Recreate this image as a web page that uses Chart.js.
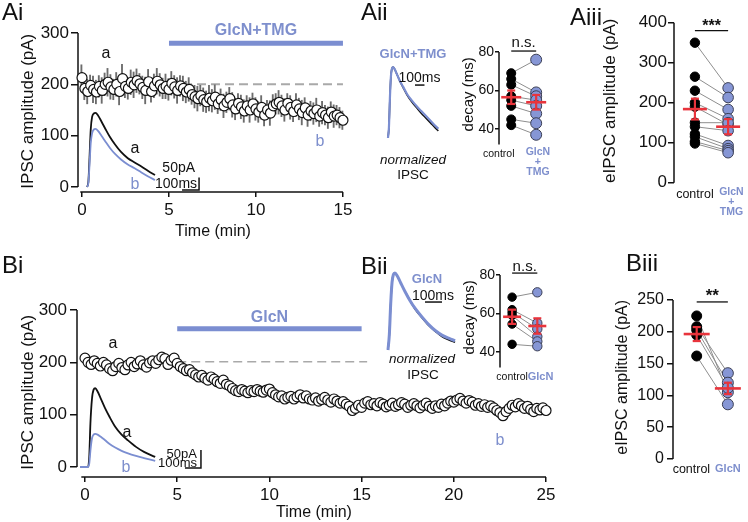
<!DOCTYPE html>
<html>
<head>
<meta charset="utf-8">
<script src="https://cdn.jsdelivr.net/npm/chart.js@4.4.1/dist/chart.umd.min.js"></script>
<style>
  body { margin: 0; width: 748px; height: 522px; position: relative; overflow: hidden; background: #fff;
         font-family: 'Liberation Sans', Arial, sans-serif; color: #111; }
  canvas { position: absolute; }
  .t { position: absolute; transform: translate(-50%, -50%); white-space: nowrap; line-height: 1; }
  .p { position: absolute; font-size: 24px; line-height: 1; }
  .blue { color: #7e8fcd; }
</style>
</head>
<body>
<canvas id="ai" width="360" height="250" style="left:0;top:0"></canvas>
<canvas id="aiiTr" width="65" height="82" style="left:380px;top:60px"></canvas>
<canvas id="aii" width="110" height="160" style="left:450px;top:30px"></canvas>
<canvas id="aiii" width="190" height="225" style="left:565px;top:0"></canvas>
<canvas id="bi" width="565" height="262" style="left:0;top:260px"></canvas>
<canvas id="biiTr" width="80" height="90" style="left:380px;top:265px"></canvas>
<canvas id="bii" width="110" height="140" style="left:450px;top:255px"></canvas>
<canvas id="biii" width="190" height="220" style="left:565px;top:270px"></canvas>

<div class="p" style="left:2px;top:0">Ai</div>
<div class="p" style="left:361px;top:0">Aii</div>
<div class="p" style="left:570px;top:5px">Aiii</div>
<div class="p" style="left:2px;top:253px">Bi</div>
<div class="p" style="left:361px;top:254px">Bii</div>
<div class="p" style="left:626px;top:251px">Biii</div>

<div class="t" style="left:106px;top:53px;font-size:16px">a</div>
<div class="t blue" style="left:320px;top:141px;font-size:16px">b</div>
<div class="t" style="left:135px;top:148px;font-size:16px">a</div>
<div class="t blue" style="left:135px;top:184px;font-size:16px">b</div>
<div class="t" style="left:113px;top:343px;font-size:16px">a</div>
<div class="t blue" style="left:500px;top:440px;font-size:16px">b</div>
<div class="t" style="left:127px;top:432px;font-size:16px">a</div>
<div class="t blue" style="left:126px;top:467px;font-size:16px">b</div>

<div class="t blue" style="left:413px;top:53px;font-size:13px;font-weight:bold">GlcN+TMG</div>
<div class="t" style="left:413px;top:160px;font-size:13.5px;font-style:italic">normalized</div>
<div class="t" style="left:413px;top:175px;font-size:13.5px">IPSC</div>
<div class="t blue" style="left:427px;top:278px;font-size:13px;font-weight:bold">GlcN</div>
<div class="t" style="left:422px;top:359px;font-size:13.5px;font-style:italic">normalized</div>
<div class="t" style="left:423px;top:375px;font-size:13.5px">IPSC</div>

<script>
const FONT = "'Liberation Sans', Arial, sans-serif";
const INK = '#111';
const BLUE = '#7b8ed1';
const BLUE_TXT = '#7e8fcd';
const DOT_BLUE = '#8696d5';
const RED = '#e8343c';
const LINK = '#8e8e8e';

// one sweep every 10 s
const SWEEP_MIN = 1 / 6;
const ampTicks = [0, 100, 200, 300];

// Ai: eIPSC amplitude (pA), GlcN+TMG 5-15 min
const timeTicksAi = [0, 5, 10, 15];
const ampAi = [213, 192, 186, 198, 190, 185, 196, 188, 200, 204, 195, 190, 200, 186, 211, 196, 192, 204, 199, 207,
  201, 194, 188, 205, 186, 197, 206, 199, 192, 196, 190,
  202, 195, 188, 197, 192, 185, 190, 180, 176, 172, 178, 170, 166, 173, 168, 175, 162, 170, 158, 165,
  172, 160, 152, 163, 156, 148, 158, 150, 162, 152, 146, 155, 140, 150, 144, 158, 162, 165, 158, 150,
  163, 155, 147, 160, 152, 145, 154, 140, 148, 143, 150, 138, 145, 140, 135, 146, 138, 140, 135, 130];
const semAi = [25, 22, 24, 20, 26, 23, 21, 25, 22, 27, 24, 20, 23, 26, 28, 22, 21, 24, 25, 23,
  20, 22, 26, 24, 21, 23, 25, 22, 20, 24, 21,
  23, 22, 25, 20, 24, 21, 23, 19, 22, 24, 20, 23, 21, 25, 22, 24, 19, 21, 23, 20,
  22, 24, 21, 19, 23, 22, 20, 24, 21, 22, 20, 23, 21, 19, 24, 22, 20, 23, 21, 22,
  19, 23, 20, 22, 21, 24, 20, 22, 19, 21, 23, 20, 22, 19, 21, 20, 22, 19, 20, 18];
const drugAi = [5, 15];
const baseAi = 200;
const baseSpanAi = [5, 15];

// Ai inset traces (ms, pA)
const trTimeAi = [0, 8, 15, 22, 30, 40, 50, 65, 85, 110, 135, 165, 200, 240, 280, 320, 360, 400];
const trAi_a = [0, 20, 120, 230, 280, 294, 296, 286, 262, 230, 200, 170, 140, 115, 98, 82, 64, 48];
const trAi_b = [0, 15, 90, 175, 215, 230, 232, 224, 205, 180, 156, 132, 110, 90, 75, 58, 42, 28];

// Aii: normalized traces and decay (ms)
const trTimeAii = [0, 10, 20, 30, 40, 53, 70, 100, 130, 160, 200, 250, 300, 350, 400, 450, 500, 530];
const trAii_ctrl = [0, 0.15, 0.55, 0.85, 0.97, 1.0, 0.97, 0.88, 0.79, 0.71, 0.61, 0.51, 0.43, 0.35, 0.28, 0.21, 0.14, 0.10];
const trAii_drug = [0, 0.15, 0.55, 0.85, 0.97, 1.0, 0.97, 0.88, 0.79, 0.72, 0.62, 0.53, 0.45, 0.38, 0.31, 0.24, 0.17, 0.13];
const decayAi_ctrl = [69, 66, 63, 57, 55, 52, 45, 42];
const decayAi_drug = [76, 59, 57, 55, 52, 48, 43, 37];
const decayAi_mean = [56.5, 53.9];
const decayAi_sem = [3.5, 3.8];

// Aiii: eIPSC amplitude (pA)
const ampAiii_ctrl = [350, 265, 230, 200, 190, 150, 140, 122, 115, 103, 98];
const ampAiii_drug = [237, 213, 183, 160, 145, 150, 130, 93, 85, 80, 75];
const ampAiii_mean = [184, 140];
const ampAiii_sem = [26, 19];

// Bi: eIPSC amplitude (pA), GlcN 5-15 min
const timeTicksBi = [0, 5, 10, 15, 20, 25];
const ampBi = [208, 200, 196, 203, 198, 193, 200,
  195, 188, 184, 192, 198, 190,
  186, 195, 200, 192, 197, 203,
  195, 191, 199, 203, 198, 205,
  210, 207, 196, 204, 208, 198,
  192, 188, 184, 186, 180, 176,
  172, 175, 170, 166, 172, 168,
  163, 160, 166, 158, 155, 150,
  146, 144, 148, 145, 142, 146,
  144, 148, 145, 143, 147, 149,
  142, 138, 134, 136, 130, 133,
  135, 130, 134, 138, 132, 136,
  130, 128, 132, 126, 129, 133,
  128, 124, 130, 126, 122, 125,
  120, 116, 108, 112, 118, 114,
  122, 125, 119, 121, 117, 123,
  120, 115, 118, 122, 116, 119,
  123, 120, 114, 118, 121, 117,
  113, 118, 122, 116, 112, 117,
  114, 120, 117, 122, 126, 124,
  128, 131, 126, 122, 127, 124,
  118, 121, 116, 119, 114, 117,
  113, 108, 104, 98, 106, 112,
  118, 115, 121, 117, 112, 116,
  110, 106, 112, 109, 113, 108];
const semBi = [5, 6, 5, 4, 6, 5, 7,
  6, 5, 7, 6, 5, 6,
  7, 5, 6, 5, 4, 6,
  5, 6, 7, 5, 6, 5,
  6, 7, 5, 6, 5, 6,
  5, 4, 6, 5, 5, 6,
  4, 5, 6, 5, 4, 5,
  6, 5, 4, 5, 6, 5,
  4, 5, 6, 4, 5, 5,
  6, 5, 4, 5, 6, 4,
  5, 6, 4, 5, 5, 6,
  4, 5, 6, 5, 4, 5,
  5, 4, 6, 5, 5, 4,
  6, 5, 4, 5, 6, 5,
  4, 6, 5, 7, 5, 6,
  5, 4, 5, 6, 4, 5,
  6, 5, 4, 5, 6, 5,
  4, 5, 6, 5, 4, 5,
  5, 6, 4, 5, 6, 5,
  4, 5, 5, 6, 4, 5,
  6, 5, 4, 5, 6, 5,
  5, 4, 6, 5, 4, 5,
  6, 7, 8, 7, 6, 5,
  5, 6, 4, 5, 6, 5,
  4, 5, 6, 5, 4, 6];
const drugBi = [5, 15];
const baseBi = 201;
const baseSpanBi = [5, 15.3];

// Bi inset traces (ms, pA)
const trTimeBi = [-50, 0, 8, 15, 25, 35, 45, 60, 80, 105, 135, 170, 210, 250, 300, 350, 420];
const trBi_a = [0, 0, 30, 120, 190, 215, 219, 210, 190, 165, 139, 112, 90, 74, 56, 42, 28];
const trBi_b = [0, 0, 10, 45, 80, 90, 92, 90, 84, 75, 64, 54, 45, 38, 31, 25, 17];

// Bii: normalized traces and decay (ms)
const trTimeBii = [0, 8, 16, 24, 32, 41, 55, 75, 100, 130, 160, 200, 240, 280, 320, 360, 395];
const trBii_ctrl = [0, 0.2, 0.6, 0.88, 0.98, 1.0, 0.96, 0.87, 0.76, 0.64, 0.53, 0.42, 0.32, 0.24, 0.17, 0.13, 0.10];
const trBii_drug = [0, 0.2, 0.6, 0.88, 0.98, 1.0, 0.96, 0.87, 0.76, 0.64, 0.54, 0.43, 0.33, 0.25, 0.19, 0.15, 0.12];
const decayBi_ctrl = [68.5, 62, 60.5, 59, 54.5, 44];
const decayBi_drug = [71, 55, 52, 48, 45.5, 43];
const decayBi_mean = [58.3, 53.5];
const decayBi_sem = [3.7, 4];

// Biii: eIPSC amplitude (pA)
const ampBiii_ctrl = [225, 208, 203, 195, 162];
const ampBiii_drug = [105, 135, 120, 112, 86];
const ampBiii_mean = [196.5, 111];
const ampBiii_sem = [11, 9];

Chart.defaults.font.family = FONT;
Chart.defaults.font.size = 16;
Chart.defaults.color = INK;
Chart.defaults.animation = false;
Chart.defaults.events = [];
Chart.defaults.plugins.legend.display = false;
Chart.defaults.plugins.tooltip.enabled = false;

function pts(xs, ys) { return xs.map((x, i) => ({x: x, y: ys[i]})); }
function sweeps(vals) { return vals.map((v, i) => ({x: i * SWEEP_MIN, y: v})); }
function errBars(vals, sem) { return vals.map((v, i) => ({x: i * SWEEP_MIN, y: [v - sem[i], v + sem[i]]})); }
function fixTicks(vals) { return s => { s.ticks = vals.map(v => ({value: v})); }; }

// axis lines, drug bar, scale bars and significance bars
function decor(o) {
  return {
    id: 'decor',
    beforeDatasetsDraw(chart) {
      const c = chart.ctx, a = chart.chartArea, sx = chart.scales.x, sy = chart.scales.y;
      c.save();
      c.strokeStyle = INK;
      c.lineWidth = 1.5;
      if (o.axisY) {
        c.beginPath();
        c.moveTo(a.left, sy.getPixelForValue(o.axisY[0]));
        c.lineTo(a.left, sy.getPixelForValue(o.axisY[1]));
        c.stroke();
      }
      if (o.axisX) {
        c.beginPath();
        c.moveTo(sx.getPixelForValue(o.axisX[0]), a.bottom);
        c.lineTo(sx.getPixelForValue(o.axisX[1]), a.bottom);
        c.stroke();
      }
      c.restore();
    },
    afterDatasetsDraw(chart) {
      const c = chart.ctx;
      c.save();
      if (o.drug) {
        const d = o.drug, sx = chart.scales.x, sy = chart.scales.y;
        const y = sy.getPixelForValue(d.y), x0 = sx.getPixelForValue(d.from), x1 = sx.getPixelForValue(d.to);
        c.strokeStyle = BLUE;
        c.lineWidth = 5;
        c.beginPath(); c.moveTo(x0, y); c.lineTo(x1, y); c.stroke();
        c.fillStyle = BLUE_TXT;
        c.font = 'bold 16px ' + FONT;
        c.textAlign = 'center';
        c.textBaseline = 'middle';
        c.fillText(d.text, (x0 + x1) / 2, y + d.dy);
      }
      if (o.bar) {
        const b = o.bar, sx = chart.scales[b.xAxis], sy = chart.scales[b.yAxis];
        const x0 = sx.getPixelForValue(b.x), y0 = sy.getPixelForValue(b.y);
        c.strokeStyle = INK;
        c.lineWidth = 1.5;
        c.beginPath();
        c.moveTo(sx.getPixelForValue(b.x - b.dx), y0);
        c.lineTo(x0, y0);
        if (b.dy) c.lineTo(x0, sy.getPixelForValue(b.y + b.dy));
        c.stroke();
        c.fillStyle = INK;
        c.font = b.font + 'px ' + FONT;
        c.textBaseline = 'alphabetic';
        b.labels.forEach(l => { c.textAlign = l.align; c.fillText(l.text, x0 + l.ox, y0 + l.oy); });
      }
      if (o.sig) {
        const g = o.sig, sx = chart.scales.x, sy = chart.scales.y;
        const y = sy.getPixelForValue(g.y), x0 = sx.getPixelForValue(0), x1 = sx.getPixelForValue(1);
        c.strokeStyle = INK;
        c.lineWidth = 1.3;
        c.beginPath(); c.moveTo(x0, y); c.lineTo(x1, y); c.stroke();
        c.fillStyle = INK;
        c.font = g.font + ' ' + FONT;
        c.textAlign = 'center';
        c.textBaseline = 'alphabetic';
        c.fillText(g.text, (x0 + x1) / 2, y + g.dy);
      }
      c.restore();
    }
  };
}

function timeCourse(id, o) {
  return new Chart(document.getElementById(id), {
    type: 'scatter',
    data: {
      datasets: [
        {data: sweeps(o.amp), pointRadius: 5, pointBackgroundColor: '#fff', pointBorderColor: INK,
         pointBorderWidth: 1.2, order: 0, clip: false},
        {type: 'bar', data: errBars(o.amp, o.sem), backgroundColor: '#6c6c6c', barThickness: 1.2, order: 1, clip: false},
        {data: [{x: o.baseSpan[0], y: o.base}, {x: o.baseSpan[1], y: o.base}], showLine: true, pointRadius: 0,
         borderColor: '#a9a9a9', borderWidth: o.baseW, borderDash: [9, 5], order: 2, clip: false},
        {data: pts(o.trT, o.trA), xAxisID: 'xt', yAxisID: 'yt', showLine: true, pointRadius: 0,
         borderColor: INK, borderWidth: 1.8, cubicInterpolationMode: 'monotone', order: 4, clip: false},
        {data: pts(o.trT, o.trB), xAxisID: 'xt', yAxisID: 'yt', showLine: true, pointRadius: 0,
         borderColor: BLUE, borderWidth: 1.8, cubicInterpolationMode: 'monotone', order: 3, clip: false}
      ]
    },
    options: {
      responsive: false,
      devicePixelRatio: 1,
      layout: {padding: {top: o.padTop, right: o.padRight, left: 0, bottom: 0}},
      scales: {
        // offset:false, the error-bar (bar) dataset would otherwise pad the time axis
        x: {type: 'linear', offset: false, min: o.xMin, max: o.xMax, afterBuildTicks: fixTicks(o.xTicks),
            afterFit: s => { s.height = o.xH; },
            border: {display: false},
            grid: {offset: false, drawOnChartArea: false, color: INK, lineWidth: 1.5, tickLength: 5},
            ticks: {font: {size: 17}, color: INK, padding: 3, maxRotation: 0},
            title: {display: true, text: 'Time (min)', font: {size: 16}, color: INK,
                    padding: {top: 0, bottom: o.xTitlePad}}},
        y: {type: 'linear', min: o.yMin, max: o.yMax, afterBuildTicks: fixTicks(ampTicks),
            afterFit: s => { s.width = o.yW; },
            border: {display: false},
            grid: {drawOnChartArea: false, color: INK, lineWidth: 1.5, tickLength: 7},
            ticks: {font: {size: 17}, color: INK, padding: o.yTickPad},
            title: {display: true, text: 'IPSC amplitude (pA)', font: {size: 17}, color: INK,
                    padding: {top: 17.8, bottom: 0}}},
        xt: {type: 'linear', axis: 'x', position: 'bottom', offset: false, display: false, min: o.xt[0], max: o.xt[1]},
        yt: {type: 'linear', axis: 'y', position: 'left', display: false, min: o.yt[0], max: o.yt[1]}
      }
    },
    plugins: [decor({axisX: o.axisX, axisY: [0, 300], drug: o.drug, bar: o.bar})]
  });
}

function pairedChart(id, o) {
  const ds = o.ctrl.map((v, i) => ({
    data: [{x: 0, y: v}, {x: 1, y: o.drug[i]}], showLine: true, borderColor: LINK, borderWidth: 1,
    pointRadius: 0, order: 4, clip: false
  }));
  ds.push({data: o.ctrl.map(v => ({x: 0, y: v})), pointRadius: o.r[0], pointBackgroundColor: '#000',
           pointBorderColor: '#000', pointBorderWidth: 1, order: 3, clip: false});
  ds.push({data: o.drug.map(v => ({x: 1, y: v})), pointRadius: o.r[1], pointBackgroundColor: DOT_BLUE,
           pointBorderColor: '#3b3f55', pointBorderWidth: 1, order: 2, clip: false});
  o.mean.forEach((m, i) => {
    ds.push({data: [{x: i, y: m - o.sem[i]}, {x: i, y: m + o.sem[i]}], showLine: true, borderColor: RED,
             borderWidth: 2.2, pointStyle: 'line', pointRadius: 4, pointBorderColor: RED, pointBorderWidth: 2.2,
             order: 1, clip: false});
    ds.push({data: [{x: i, y: m}], pointStyle: 'line', pointRadius: o.meanR, pointBorderColor: RED,
             pointBorderWidth: 2.6, order: 0, clip: false});
  });
  return new Chart(document.getElementById(id), {
    type: 'scatter',
    data: {datasets: ds},
    options: {
      responsive: false,
      devicePixelRatio: 1,
      layout: {padding: {top: o.padTop, right: o.padRight, left: 0, bottom: 0}},
      scales: {
        // group labels sit slightly off the dot columns, as in the figure
        x: {type: 'linear', min: o.xMin, max: o.xMax, afterBuildTicks: fixTicks(o.labelAt),
            afterFit: s => { s.height = o.xH; },
            border: {display: false}, grid: {display: false, drawTicks: false},
            ticks: {padding: o.xTickPad, maxRotation: 0, autoSkip: false,
                    callback: (v, i) => o.labels[i],
                    color: c => c.index === 1 ? BLUE_TXT : INK,
                    font: c => c.index === 1 ? {size: o.drugFont, weight: 'bold', lineHeight: o.drugLH}
                                             : {size: o.ctrlFont}}},
        y: {type: 'linear', min: o.yMin, max: o.yMax, afterBuildTicks: fixTicks(o.yTicks),
            afterFit: s => { s.width = o.yW; },
            border: {display: false},
            grid: {drawOnChartArea: false, color: INK, lineWidth: 1.5, tickLength: o.tickLen},
            ticks: {font: {size: o.tickFont}, color: INK, padding: o.yTickPad},
            title: {display: true, text: o.yTitle, font: {size: o.titleFont}, color: INK,
                    padding: {top: o.titlePad, bottom: 0}}}
      }
    },
    plugins: [decor({axisY: o.axisY, sig: o.sig})]
  });
}

function traceChart(id, o) {
  return new Chart(document.getElementById(id), {
    type: 'scatter',
    data: {
      datasets: [
        {data: pts(o.t, o.ctrl), showLine: true, pointRadius: 0, borderColor: INK, borderWidth: 1.6,
         cubicInterpolationMode: 'monotone', order: 1, clip: false},
        {data: pts(o.t, o.drug), showLine: true, pointRadius: 0, borderColor: BLUE, borderWidth: o.w,
         cubicInterpolationMode: 'monotone', order: 0, clip: false}
      ]
    },
    options: {
      responsive: false,
      devicePixelRatio: 1,
      layout: {padding: 0},
      scales: {
        x: {type: 'linear', display: false, min: o.x[0], max: o.x[1]},
        y: {type: 'linear', display: false, min: o.y[0], max: o.y[1]}
      }
    },
    plugins: [decor({bar: o.bar})]
  });
}

timeCourse('ai', {
  amp: ampAi, sem: semAi, base: baseAi, baseSpan: baseSpanAi, baseW: 2,
  trT: trTimeAi, trA: trAi_a, trB: trAi_b,
  xTicks: timeTicksAi, xMin: -0.23, xMax: 15.29, yMin: -9.74, yMax: 305,
  xt: [-52.9, 1535], yt: [-20, 626],
  padTop: 30.4, padRight: 12, xH: 58, yW: 78, yTickPad: 2, xTitlePad: 8.8,
  axisX: [-0.1, 15],
  drug: {from: drugAi[0], to: drugAi[1], y: 280, text: 'GlcN+TMG', dy: -13},
  bar: {xAxis: 'xt', yAxis: 'yt', x: 659, y: -12, dx: 100, dy: 50, font: 14,
        labels: [{text: '50pA', align: 'right', ox: -4, oy: -18}, {text: '100ms', align: 'right', ox: -2, oy: -2}]}
});

timeCourse('bi', {
  amp: ampBi, sem: semBi, base: baseBi, baseSpan: baseSpanBi, baseW: 1.6,
  trT: trTimeBi, trA: trBi_a, trB: trBi_b,
  xTicks: timeTicksBi, xMin: -0.434, xMax: 25.27, yMin: -19.1, yMax: 305,
  xt: [-68.75, 2893.75], yt: [-27.8, 443.7],
  padTop: 47.4, padRight: 14, xH: 45, yW: 77, yTickPad: 3, xTitlePad: 0,
  axisX: [-0.2, 25],
  drug: {from: drugBi[0], to: drugBi[1], y: 264, text: 'GlcN', dy: -11},
  bar: {xAxis: 'xt', yAxis: 'yt', x: 706, y: -2.8, dx: 100, dy: 50, font: 13,
        labels: [{text: '50pA', align: 'right', ox: -4, oy: -10.5}, {text: '100ms', align: 'right', ox: -4, oy: -1.5}]}
});

traceChart('aiiTr', {
  t: trTimeAii, ctrl: trAii_ctrl, drug: trAii_drug, w: 2.2,
  x: [-84, 600], y: [-0.056, 1.099],
  bar: {xAxis: 'x', yAxis: 'y', x: 384, y: 0.746, dx: 100, dy: 0, font: 14,
        labels: [{text: '100ms', align: 'center', ox: -5, oy: -3}]}
});

traceChart('biiTr', {
  t: trTimeBii, ctrl: trBii_ctrl, drug: trBii_drug, w: 3,
  x: [-47, 424], y: [-0.065, 1.104],
  bar: {xAxis: 'x', yAxis: 'y', x: 318, y: 0.623, dx: 100, dy: 0, font: 14,
        labels: [{text: '100ms', align: 'center', ox: -9, oy: -2}]}
});

pairedChart('aii', {
  ctrl: decayAi_ctrl, drug: decayAi_drug, mean: decayAi_mean, sem: decayAi_sem,
  r: [4.5, 5.5], meanR: 10,
  labels: ['control', ['GlcN', '+', 'TMG']], labelAt: [-0.5, 1.07],
  ctrlFont: 10.5, drugFont: 10.5, drugLH: 0.95, xTickPad: 3,
  xMin: -0.49, xMax: 1.45, yMin: 32, yMax: 84, yTicks: [40, 60, 80],
  padTop: 14.3, padRight: 4, xH: 45.6, yW: 49, tickLen: 4, tickFont: 14, yTickPad: 1,
  yTitle: 'decay (ms)', titleFont: 15, titlePad: 10,
  axisY: [32, 80], sig: {y: 80.5, text: 'n.s.', font: '15px', dy: -4}
});

pairedChart('aiii', {
  ctrl: ampAiii_ctrl, drug: ampAiii_drug, mean: ampAiii_mean, sem: ampAiii_sem,
  r: [4.7, 5.3], meanR: 12,
  labels: ['control', ['GlcN', '+', 'TMG']], labelAt: [0, 1.1],
  ctrlFont: 12.5, drugFont: 10.5, drugLH: 0.95, xTickPad: 2,
  xMin: -0.63, xMax: 1.37, yMin: -5, yMax: 415, yTicks: [0, 100, 200, 300, 400],
  padTop: 16.7, padRight: 7, xH: 40.3, yW: 109, tickLen: 6, tickFont: 17, yTickPad: 1,
  yTitle: 'eIPSC amplitude (pA)', titleFont: 17, titlePad: 34.8,
  axisY: [0, 400], sig: {y: 380, text: '***', font: 'bold 16px', dy: 0}
});

pairedChart('bii', {
  ctrl: decayBi_ctrl, drug: decayBi_drug, mean: decayBi_mean, sem: decayBi_sem,
  r: [4.2, 4.7], meanR: 9,
  labels: ['control', 'GlcN'], labelAt: [0, 1.13],
  ctrlFont: 10.5, drugFont: 11, drugLH: 1.2, xTickPad: 3,
  xMin: -0.48, xMax: 1.44, yMin: 32, yMax: 84, yTicks: [40, 60, 80],
  padTop: 12.3, padRight: 4, xH: 27.6, yW: 50, tickLen: 4, tickFont: 14, yTickPad: 1,
  yTitle: 'decay (ms)', titleFont: 15, titlePad: 11,
  axisY: [32, 80], sig: {y: 81, text: 'n.s.', font: '15px', dy: -2}
});

pairedChart('biii', {
  ctrl: ampBiii_ctrl, drug: ampBiii_drug, mean: ampBiii_mean, sem: ampBiii_sem,
  r: [5, 5.5], meanR: 13,
  labels: ['control', 'GlcN'], labelAt: [-0.17, 1],
  ctrlFont: 12.5, drugFont: 11, drugLH: 1.2, xTickPad: 0,
  xMin: -0.76, xMax: 1.37, yMin: -5, yMax: 262, yTicks: [0, 50, 100, 150, 200, 250],
  padTop: 22.4, padRight: 7, xH: 27.8, yW: 108, tickLen: 6, tickFont: 16, yTickPad: 3,
  yTitle: 'eIPSC amplitude (pA)', titleFont: 16, titlePad: 48.4,
  axisY: [0, 250], sig: {y: 247, text: '**', font: 'bold 17px', dy: -0.5}
});
</script>
</body>
</html>
